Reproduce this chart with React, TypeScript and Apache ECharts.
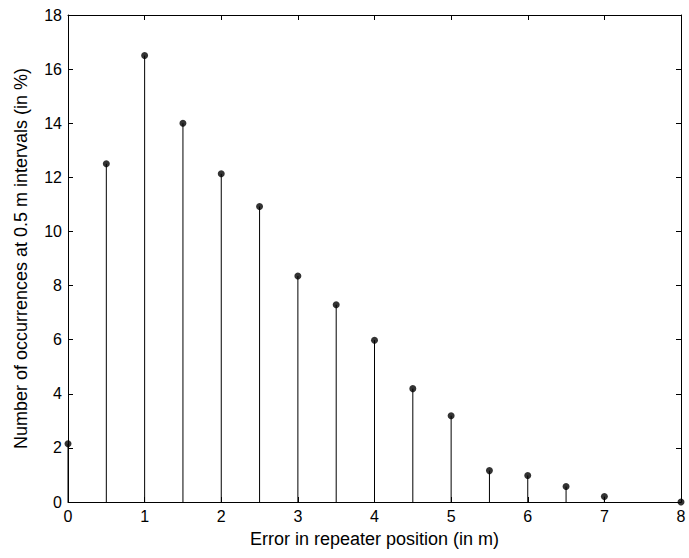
import React, { useEffect, useRef } from "react";
import * as echarts from "echarts";

const xValues = [0, 0.5, 1, 1.5, 2, 2.5, 3, 3.5, 4, 4.5, 5, 5.5, 6, 6.5, 7, 8];
const yValues = [2.15, 12.5, 16.5, 14.0, 12.13, 10.92, 8.35, 7.29, 5.98, 4.19, 3.19, 1.16, 0.98, 0.57, 0.2, 0];
const xTitle = "Error in repeater position (in m)";
const yTitle = "Number of occurrences at 0.5 m intervals (in %)";

const FONT = "'Liberation Sans', Arial, sans-serif";

export default function App() {
  const ref = useRef<HTMLDivElement>(null);
  useEffect(() => {
    if (!ref.current) return;
    const chart = echarts.init(ref.current, undefined, { renderer: "svg" });
    const data = xValues.map((x, i) => [x, yValues[i]]);
    const line = { show: true, onZero: false, lineStyle: { color: "#000", width: 1 } };
    const tickIn = { show: true, inside: true, length: 5, lineStyle: { color: "#000", width: 1 } };
    chart.setOption({
      animation: false,
      backgroundColor: "#fff",
      grid: { left: 68, right: 8, top: 15, bottom: 56, containLabel: false },
      xAxis: [
        {
          type: "value",
          position: "bottom",
          min: 0,
          max: 8,
          interval: 1,
          axisLine: line,
          axisTick: tickIn,
          splitLine: { show: false },
          axisLabel: { color: "#000", fontSize: 16, fontFamily: FONT, margin: 6 },
          name: xTitle,
          nameLocation: "middle",
          nameGap: 28,
          nameTextStyle: { color: "#000", fontSize: 18, fontFamily: FONT },
        },
        {
          type: "value",
          position: "top",
          min: 0,
          max: 8,
          interval: 1,
          axisLine: line,
          axisTick: tickIn,
          splitLine: { show: false },
          axisLabel: { show: false },
        },
      ],
      yAxis: [
        {
          type: "value",
          position: "left",
          min: 0,
          max: 18,
          interval: 2,
          axisLine: line,
          axisTick: tickIn,
          splitLine: { show: false },
          axisLabel: { color: "#000", fontSize: 16, fontFamily: FONT, margin: 6 },
          name: yTitle,
          nameLocation: "middle",
          nameGap: 38,
          nameTextStyle: { color: "#000", fontSize: 18, fontFamily: FONT },
        },
        {
          type: "value",
          position: "right",
          min: 0,
          max: 18,
          interval: 2,
          axisLine: line,
          axisTick: tickIn,
          splitLine: { show: false },
          axisLabel: { show: false },
        },
      ],
      series: [
        {
          type: "custom",
          xAxisIndex: 0,
          yAxisIndex: 0,
          data,
          encode: { x: 0, y: 1 },
          renderItem: (params: any, api: any) => {
            const top = api.coord([api.value(0), api.value(1)]);
            const base = api.coord([api.value(0), 0]);
            return {
              type: "line",
              shape: { x1: top[0], y1: top[1], x2: base[0], y2: base[1] },
              style: { stroke: "#000", lineWidth: 1 },
            };
          },
          silent: true,
        },
        {
          type: "scatter",
          xAxisIndex: 0,
          yAxisIndex: 0,
          data,
          symbol: "circle",
          symbolSize: 7,
          itemStyle: { color: "#000" },
          clip: false,
          silent: true,
        },
      ],
    });
    return () => chart.dispose();
  }, []);
  return (
    <div
      ref={ref}
      style={{ position: "fixed", left: 0, top: 0, width: 689, height: 558, background: "#fff" }}
    />
  );
}
